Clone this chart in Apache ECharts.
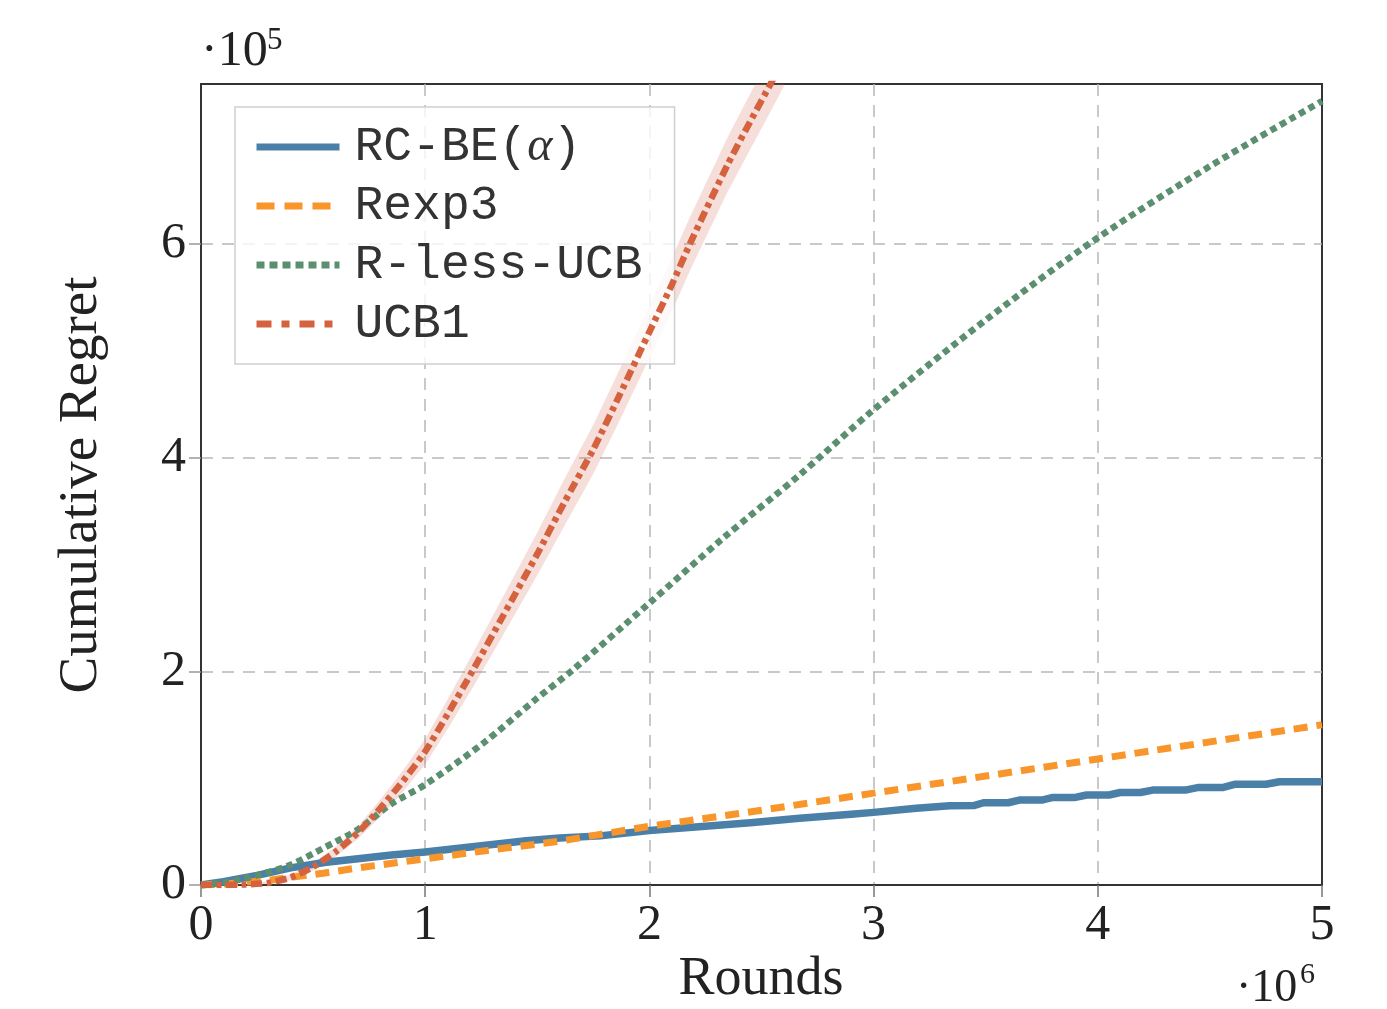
<!DOCTYPE html>
<html><head><meta charset="utf-8">
<script src="https://cdn.jsdelivr.net/npm/echarts@6/dist/echarts.min.js"></script>
<style>html,body{margin:0;padding:0;background:#fff}#c{width:1387px;height:1009px}</style>
</head><body><div id="c"></div>
<script>
// x in units of 1e6 rounds, y in units of 1e5 regret
const seriesNames = ['RC-BE(α)', 'Rexp3', 'R-less-UCB', 'UCB1'];
const xAxisMax = 5;
const yAxisMax = 7.5;
const rcbe = [[0,0],[0.1,0.03],[0.25,0.09],[0.4,0.16],[0.55,0.21],[0.7,0.245],[0.85,0.28],[1.0,0.31],
  [1.15,0.345],[1.3,0.38],[1.45,0.415],[1.6,0.44],[1.78,0.46],[2.0,0.51],[2.22,0.546],[2.45,0.583],
  [2.67,0.624],[2.9,0.662],[3.0,0.68],[3.19,0.718],[3.34,0.742],[3.45,0.745],[3.49,0.77],[3.6,0.77],
  [3.65,0.795],[3.75,0.795],[3.8,0.82],[3.9,0.82],[3.95,0.843],[4.05,0.843],[4.1,0.866],[4.19,0.866],
  [4.245,0.889],[4.39,0.889],[4.45,0.914],[4.56,0.914],[4.61,0.943],[4.75,0.943],[4.81,0.967],[5.0,0.967]];
const rexp3 = [[0,0],[0.1,0.01],[0.2,0.025],[0.32,0.05],[0.545,0.11],[0.7,0.16],[1.0,0.245],[1.3,0.33],
  [1.6,0.41],[2.0,0.55],[2.5,0.70],[3.0,0.86],[3.5,1.02],[4.0,1.18],[4.5,1.34],[5.0,1.50]];
const rlessucb = [[0,0],[0.1,0.02],[0.25,0.09],[0.4,0.19],[0.55,0.35],[0.7,0.52],[0.85,0.76],[1.0,0.94],
  [1.26,1.33],[1.5,1.75],[1.65,2.0],[2.0,2.64],[2.33,3.25],[2.67,3.84],[3.0,4.45],[3.5,5.29],
  [4.0,6.06],[4.5,6.73],[5.0,7.34]];
const ucb1 = [[0,0],[0.1,0],[0.2,0.005],[0.3,0.02],[0.4,0.07],[0.5,0.17],[0.6,0.31],[0.7,0.49],[0.8,0.72],
  [0.9,0.97],[1.0,1.25],[1.1,1.6],[1.21,2.0],[1.35,2.53],[1.5,3.1],[1.62,3.58],[1.75,4.08],[1.87,4.6],
  [2.0,5.18],[2.1,5.62],[2.18,6.0],[2.35,6.75],[2.45,7.15],[2.54,7.5],[2.6,7.74]];
const ucb1Spread = [0,0.005,0.01,0.015,0.025,0.035,0.045,0.06,0.08,0.1,0.12,0.14,0.16,0.18,0.2,0.22,0.23,
  0.24,0.245,0.25,0.25,0.255,0.26,0.26,0.26];

const colors = ['#4a7fa8', '#f8962b', '#5b8f6f', '#d4623f'];
const serif = 'Liberation Serif';
const mono = 'Liberation Mono';

const chart = echarts.init(document.getElementById('c'), null, {renderer: 'canvas'});
const gridLine = {show: true, showMinLine: false, showMaxLine: false, lineStyle: {color: '#b8b8b8', width: 1.5, type: [12, 9]}};
const legendLine = [
  {width: 7, type: 'solid', color: colors[0], cap: 'butt'},
  {width: 7, type: [18, 10], color: colors[1], cap: 'butt'},
  {width: 7, type: [8, 5], color: colors[2], cap: 'butt'},
  {width: 7, type: [15, 10, 8, 10], color: colors[3], cap: 'butt'}
];
chart.setOption({
  animation: false,
  backgroundColor: '#fff',
  grid: {left: 201, right: 65, top: 84, bottom: 124, show: true, borderColor: '#333', borderWidth: 2, backgroundColor: 'transparent'},
  xAxis: {
    type: 'value', min: 0, max: xAxisMax, interval: 1,
    axisLine: {show: true, lineStyle: {color: '#333', width: 2}},
    axisTick: {show: true, length: 12, lineStyle: {color: '#777', width: 1.5}},
    axisLabel: {fontFamily: serif, fontSize: 50, color: '#222', margin: 16},
    splitLine: gridLine
  },
  yAxis: {
    type: 'value', min: 0, max: yAxisMax, interval: 2,
    axisLine: {show: true, lineStyle: {color: '#333', width: 2}},
    axisTick: {show: true, length: 12, lineStyle: {color: '#999', width: 1.5}},
    axisLabel: {fontFamily: serif, fontSize: 50, color: '#222', margin: 15, showMaxLabel: false},
    splitLine: gridLine
  },
  legend: {
    orient: 'vertical', left: 235, top: 107,
    data: seriesNames.map((n, i) => ({name: n, lineStyle: legendLine[i], itemStyle: {color: 'rgba(0,0,0,0)', borderWidth: 0}})),
    backgroundColor: 'rgba(255,255,255,0.8)',
    borderColor: '#cfcfcf', borderWidth: 1.5, borderRadius: 0,
    padding: [16, 32, 16, 18],
    itemWidth: 83, itemHeight: 14, itemGap: 11,
    formatter: function (name) {
      if (name === 'RC-BE(α)') return '{m|RC-BE(}{a|α}{m|)}';
      return '{m|' + name + '}';
    },
    textStyle: {
      fontFamily: mono, fontSize: 48, color: '#333', lineHeight: 48, padding: [0, 0, 0, 10],
      rich: {
        m: {fontFamily: mono, fontSize: 48, color: '#333', lineHeight: 48},
        a: {fontFamily: serif, fontStyle: 'italic', fontSize: 48, color: '#333', lineHeight: 48}
      }
    }
  },
  graphic: [
    {type: 'text', x: 201, y: 52, style: {text: '·10', font: '50px "Liberation Serif"', fill: '#222', verticalAlign: 'middle', align: 'left'}},
    {type: 'text', x: 267, y: 41, style: {text: '5', font: '31px "Liberation Serif"', fill: '#222', verticalAlign: 'middle', align: 'left'}},
    {type: 'text', x: 1236, y: 989, style: {text: '·10', font: '46px "Liberation Serif"', fill: '#222', verticalAlign: 'middle', align: 'left'}},
    {type: 'text', x: 1300, y: 975, style: {text: '6', font: '30px "Liberation Serif"', fill: '#222', verticalAlign: 'middle', align: 'left'}},
    {type: 'text', x: 761, y: 980, style: {text: 'Rounds', font: '54px "Liberation Serif"', fill: '#222', verticalAlign: 'middle', align: 'center'}},
    {type: 'text', x: 82, y: 485, rotation: Math.PI / 2, style: {text: 'Cumulative Regret', font: '55px "Liberation Serif"', fill: '#222', verticalAlign: 'middle', align: 'center'}}
  ],
  series: [
    {
      type: 'custom', name: 'UCB1 band', clip: true, silent: true, z: 1,
      data: [[0, 0]],
      renderItem: function (params, api) {
        const upper = ucb1.map((p, i) => api.coord([p[0], p[1] + ucb1Spread[i]]));
        const lower = ucb1.map((p, i) => api.coord([p[0], Math.max(0, p[1] - ucb1Spread[i])])).reverse();
        const cs = params.coordSys;
        return {
          type: 'polygon',
          shape: {points: upper.concat(lower)},
          style: {fill: 'rgba(216,110,85,0.22)'},
          clipPath: {type: 'rect', shape: {x: cs.x, y: cs.y, width: cs.width, height: cs.height}}
        };
      }
    },
    {name: seriesNames[0], type: 'line', data: rcbe, symbol: 'none', z: 2,
      lineStyle: {color: colors[0], width: 7.5, cap: 'butt', join: 'round'}, itemStyle: {color: colors[0]}},
    {name: seriesNames[1], type: 'line', data: rexp3, symbol: 'none', z: 3,
      lineStyle: {color: colors[1], width: 7, type: [14, 9], cap: 'butt'}, itemStyle: {color: colors[1]}},
    {name: seriesNames[2], type: 'line', data: rlessucb, symbol: 'none', smooth: 0.3, z: 4,
      lineStyle: {color: colors[2], width: 6.5, type: [6.5, 4.5], cap: 'butt'}, itemStyle: {color: colors[2]}},
    {name: seriesNames[3], type: 'line', data: ucb1, symbol: 'none', smooth: 0.2, z: 5,
      lineStyle: {color: colors[3], width: 6.5, type: [11, 4.5, 5, 4.5], cap: 'butt'}, itemStyle: {color: colors[3]}}
  ]
});
</script>
</body></html>
